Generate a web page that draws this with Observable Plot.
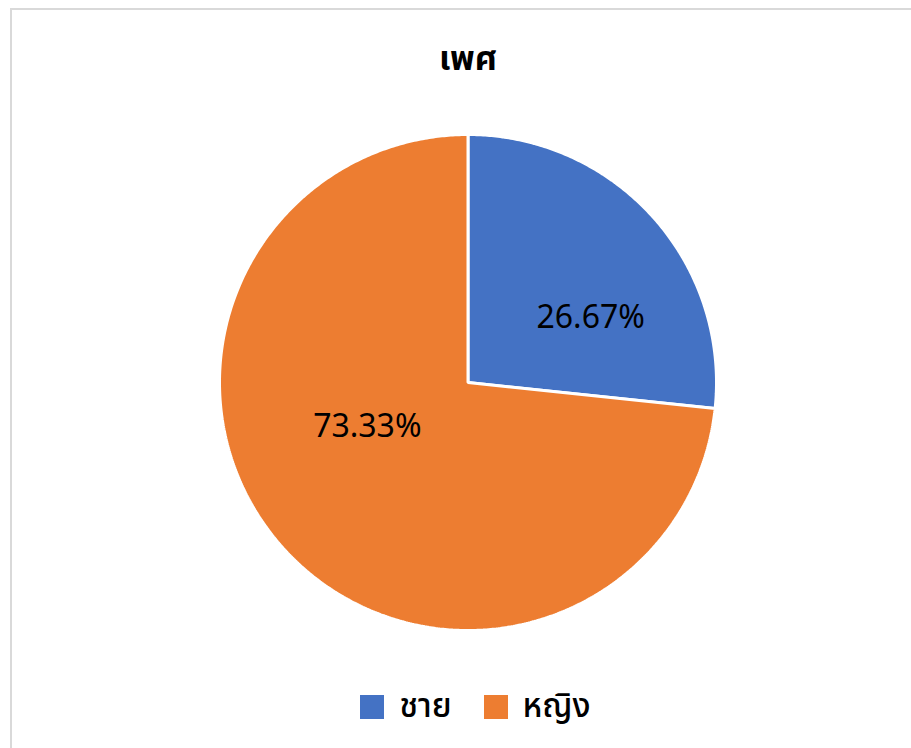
<!DOCTYPE html>
<html>
<head>
<meta charset="utf-8">
<script src="https://cdn.jsdelivr.net/npm/d3@7"></script>
<script src="https://cdn.jsdelivr.net/npm/@observablehq/plot@0.6"></script>
<style>
  html, body { margin: 0; padding: 0; background: #fff; }
  body { width: 911px; height: 748px; overflow: hidden; position: relative;
         font-family: "Leelawadee UI", Tahoma, "Noto Sans Thai", "Noto Sans Thai UI", "Noto Sans", "DejaVu Sans", sans-serif; }
  #frame { position: absolute; left: 10px; top: 8px; width: 1000px; height: 1000px;
           border-top: 2px solid #d9d9d9; border-left: 2px solid #d9d9d9; box-sizing: border-box; }
  #wrap { position: relative; width: 911px; }
  #title { height: 130px; box-sizing: border-box; padding-top: 40px; line-height: 40px;
           text-align: center; font-size: 34px; font-weight: bold; color: #000; padding-left: 25px; }
  #chart svg { display: block; }
  #legend { height: 108px; box-sizing: border-box; padding-top: 26px; line-height: 36px;
            display: flex; justify-content: center; align-items: center; padding-left: 40px;
            font-size: 33px; font-weight: 500; color: #000; }
  .item { display: flex; align-items: center; }
  .item + .item { margin-left: 32px; }
  .swatch { width: 24px; height: 24px; margin-right: 15px; }
</style>
</head>
<body>
<div id="frame"></div>
<div id="wrap">
  <div id="title"></div>
  <div id="chart"></div>
  <div id="legend"></div>
</div>
<script>
const titleText = "เพศ";
const categories = ["ชาย", "หญิง"];
const values = [26.67, 73.33];
const colors = ["#4472C4", "#ED7D31"];

document.getElementById("title").textContent = titleText;

const total = d3.sum(values);
let acc = 0;
const slices = categories.map((c, i) => {
  const a0 = acc / total * 2 * Math.PI;
  acc += values[i];
  const a1 = acc / total * 2 * Math.PI;
  return {cat: c, value: values[i], a0, a1};
});

// polygon outline for each slice (angle measured clockwise from 12 o'clock)
const pts = [];
for (const s of slices) {
  pts.push({cat: s.cat, x: 0, y: 0});
  const n = Math.max(2, Math.ceil((s.a1 - s.a0) / (Math.PI / 360)));
  for (let k = 0; k <= n; k++) {
    const a = s.a0 + (s.a1 - s.a0) * k / n;
    pts.push({cat: s.cat, x: Math.sin(a), y: Math.cos(a)});
  }
}

const labelR = 0.5, labelShift = 16 * Math.PI / 180;
const labels = slices.map(s => {
  const m = (s.a0 + s.a1) / 2 + labelShift;
  return {cat: s.cat, x: labelR * Math.sin(m), y: labelR * Math.cos(m), text: s.value.toFixed(2) + "%"};
});

const chart = Plot.plot({
  width: 911,
  height: 510,
  marginLeft: 219,
  marginRight: 195,
  marginTop: 4,
  marginBottom: 10,
  x: {domain: [-1, 1], axis: null},
  y: {domain: [-1, 1], axis: null},
  color: {domain: categories, range: colors},
  style: {fontFamily: "'Leelawadee UI', Tahoma, 'Noto Sans', 'DejaVu Sans', sans-serif", background: "transparent"},
  marks: [
    Plot.line(pts, {x: "x", y: "y", z: "cat", fill: "cat", stroke: "white", strokeWidth: 3,
                    strokeLinejoin: "miter", curve: "linear-closed"}),
    Plot.text(labels, {x: "x", y: "y", text: "text", fontSize: 32, fill: "black", dx: 11, dy: -10})
  ]
});
document.getElementById("chart").appendChild(chart);

const legend = document.getElementById("legend");
categories.forEach((c, i) => {
  const item = document.createElement("div");
  item.className = "item";
  const sw = document.createElement("span");
  sw.className = "swatch";
  sw.style.background = colors[i];
  const t = document.createElement("span");
  t.textContent = c;
  item.appendChild(sw);
  item.appendChild(t);
  legend.appendChild(item);
});
</script>
</body>
</html>
